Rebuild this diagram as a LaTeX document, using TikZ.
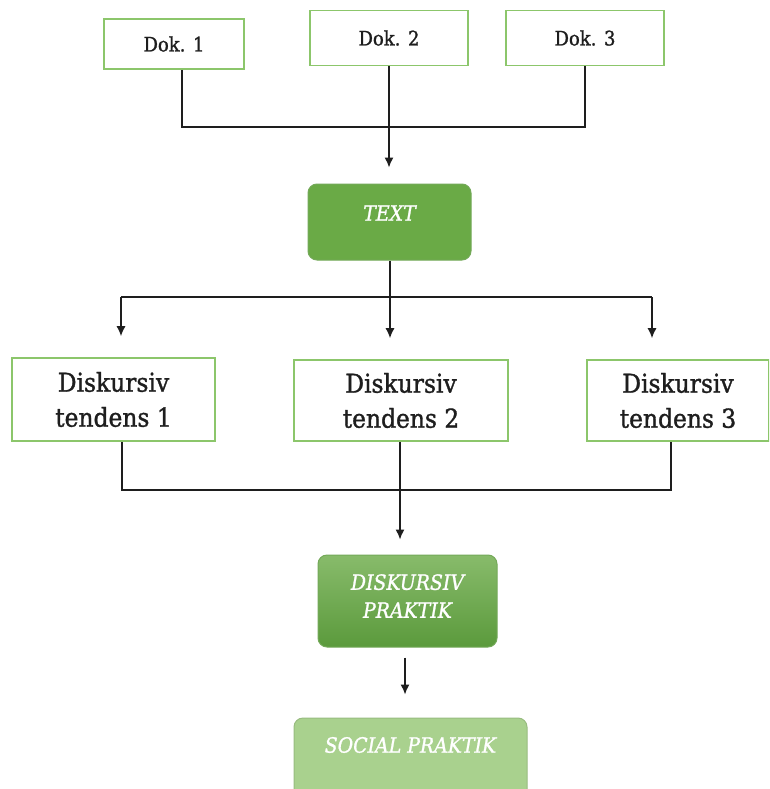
\documentclass[tikz,border=0pt]{standalone}
\usepackage{fontspec}
\setmainfont{DejaVu Serif Condensed}
\newfontfamily\heavyfont{DejaVu Serif Condensed}[FakeBold=1.2]
\usetikzlibrary{arrows.meta}
\definecolor{boxgreen}{HTML}{8CC66B}
\definecolor{textgreen}{HTML}{6AAA46}
\definecolor{darkgreen}{HTML}{5B9A3C}
\definecolor{palegreen}{HTML}{A9D18E}
\definecolor{inkgray}{HTML}{1E1E1E}
\tikzset{
  dokbox/.style={draw=boxgreen, line width=1.6pt, fill=white, text=inkgray, align=center, inner sep=0pt},
  greenbox/.style={draw=darkgreen!85, line width=1pt, rounded corners=9pt, inner sep=0pt},
  whitetext/.style={text=white, align=center, font=\heavyfont\itshape\fontsize{21}{28}\selectfont},
  link/.style={draw=inkgray, line width=1.4pt},
}

\begin{document}
\begin{tikzpicture}[x=1pt,y=-1pt,>={Latex[length=10pt,width=9pt]}]
  \clip (0,0) rectangle (769,789);
  \fill[white] (0,0) rectangle (769,789);
  % documents
  \node[dokbox, minimum width=140pt, minimum height=50pt, font=\heavyfont\fontsize{20}{22}\selectfont] (dok1) at (174,44) {Dok. 1};
  \node[dokbox, minimum width=158pt, minimum height=55pt, font=\heavyfont\fontsize{20}{22}\selectfont] (dok2) at (389,38) {Dok. 2};
  \node[dokbox, minimum width=158pt, minimum height=55pt, font=\heavyfont\fontsize{20}{22}\selectfont] (dok3) at (585,38) {Dok. 3};
  % text
  \node[greenbox, fill=textgreen, minimum width=163pt, minimum height=76pt] (text) at (389.5,222) {};
  \node[whitetext] (textlbl) at ([yshift=9pt]text.center) {TEXT};
  % tendenses
  \node[dokbox, minimum width=203pt, minimum height=83pt, font=\heavyfont\fontsize{26}{35}\selectfont] (dt1) at (113.5,399.5) {Diskursiv\\tendens 1};
  \node[dokbox, minimum width=214pt, minimum height=81pt, font=\heavyfont\fontsize{26}{35}\selectfont] (dt2) at (401,400.5) {Diskursiv\\tendens 2};
  \node[dokbox, minimum width=182pt, minimum height=81pt, font=\heavyfont\fontsize{26}{35}\selectfont] (dt3) at (678,400.5) {Diskursiv\\tendens 3};
  % praktik
  \node[greenbox, top color=textgreen!80!white, bottom color=darkgreen, minimum width=179pt, minimum height=92pt] (dp) at (407.5,601) {};
  \node[whitetext] (dplbl) at ([yshift=5pt]dp.center) {DISKURSIV\\PRAKTIK};
  \node[greenbox, draw=palegreen!90!black, fill=palegreen, minimum width=233pt, minimum height=84pt] (sp) at (410.5,760) {};
  \node[whitetext] (splbl) at ([yshift=15pt]sp.center) {SOCIAL PRAKTIK};

  % dok -> text
  \coordinate (j1) at (388,127);
  \draw[link] ([xshift=8pt]dok1.south) |- (j1) -| (dok3.south);
  \draw[link,->,shorten >=16pt] (dok2.south) -- (dok2.south |- text.north);
  % text -> tendenses
  \coordinate (j2) at (390,297);
  \coordinate (j2l) at (121,297);
  \coordinate (j2r) at (652,297);
  \draw[link] (j2 |- text.south) -- (j2);
  \draw[link] (j2l) -- (j2r);
  \foreach \c/\n in {j2l/dt1, j2/dt2, j2r/dt3} { \draw[link,->,shorten >=21pt] (\c) -- (\c |- \n.north); }
  % tendenses -> praktik
  \coordinate (b1) at ([xshift=8.5pt]dt1.south);
  \coordinate (b3) at ([xshift=-7pt]dt3.south);
  \coordinate (j3) at (400,490);
  \draw[link] (b1) |- (j3) -| (b3);
  \draw[link] (j3 |- dt2.south) -- (j3);
  \draw[link,->,shorten >=15pt] (j3) -- (j3 |- dp.north);
  \draw[link,->,shorten <=10pt,shorten >=23pt] ([xshift=-2.5pt]dp.south) -- ([xshift=-2.5pt]dp.south |- sp.north);
\end{tikzpicture}
\end{document}
